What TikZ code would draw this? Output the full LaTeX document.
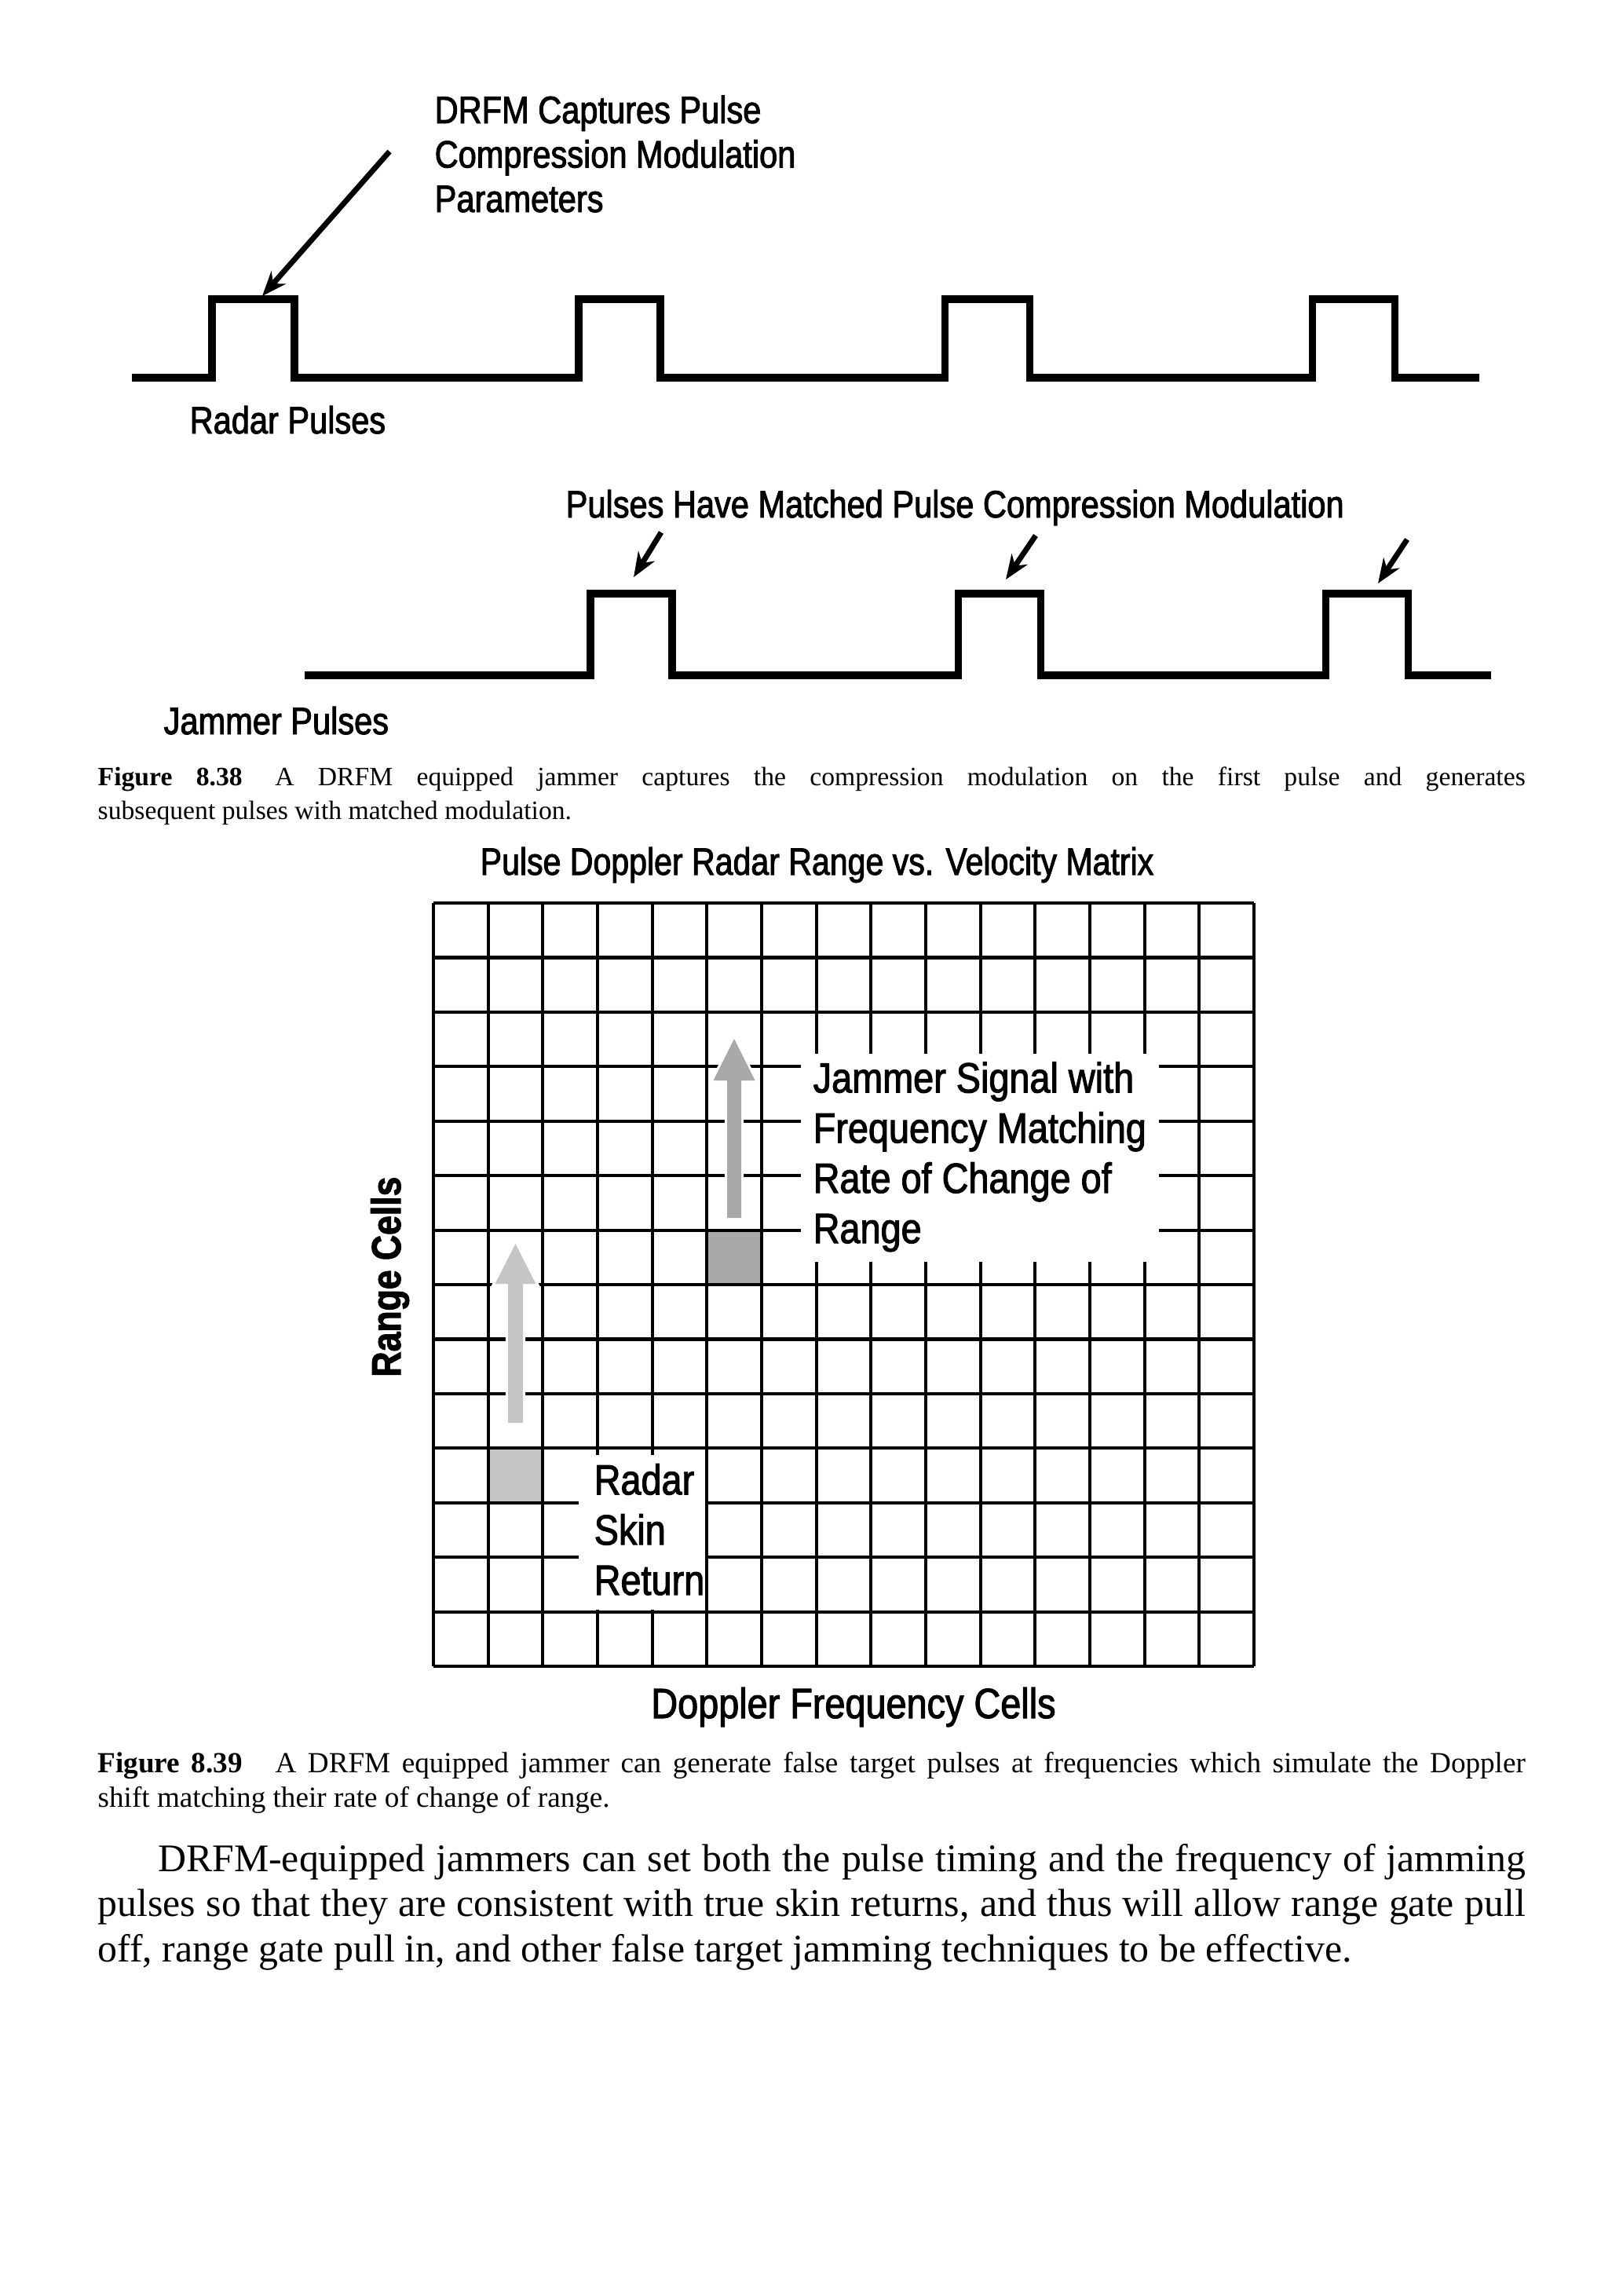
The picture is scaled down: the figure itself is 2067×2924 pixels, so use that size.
\documentclass[tikz,border=0pt]{standalone}
\usepackage{fontspec}
\setmainfont{Liberation Serif}
\newfontfamily\cond[FakeStretch=0.855,FakeBold=2]{Liberation Sans}
\newfontfamily\tcond[FakeStretch=0.845,FakeBold=2]{Liberation Sans}
\newfontfamily\gcond[FakeStretch=0.87,FakeBold=2]{Liberation Sans}
\usetikzlibrary{arrows.meta}
\definecolor{lightsq}{HTML}{C5C5C5}
\definecolor{darksq}{HTML}{A9A9A9}
\hyphenpenalty=10000
\begin{document}
\begin{tikzpicture}[x=0.288pt,y=-0.288pt,
  lab/.style={font=\cond\fontsize{14}{16.3}\selectfont, inner sep=0pt, align=left},
  glab/.style={font=\gcond\fontsize{15.5}{18.4}\selectfont, inner sep=0pt, align=left},
  capt/.style={inner sep=0pt, text width=523.6pt, align=justify},
  bodytext/.style={font=\fontsize{14.35}{16.6}\selectfont, inner sep=0pt, text width=523.6pt, align=justify},
  pulse/.style={line width=2.6pt, line join=miter},
  blackarrow/.style={line width=2pt, -{Stealth[length=9pt,width=7pt]}},
  gridln/.style={line width=1.2pt},
  whitebox/.style={fill=white, draw=none}
]
\useasboundingbox (0,0) rectangle (2067,2924);
\fill[white] (0,0) rectangle (2067,2924);

% ---------- Figure 8.38 ----------
\draw[pulse] (168,481) -- (270,481) -- (270,381) -- (375,381) -- (375,481)
  -- (737,481) -- (737,381) -- (841,381) -- (841,481)
  -- (1203,481) -- (1203,381) -- (1311,381) -- (1311,481)
  -- (1671,481) -- (1671,381) -- (1776,381) -- (1776,481) -- (1884,481);

\draw[pulse] (388,860) -- (752,860) -- (752,756) -- (856,756) -- (856,860)
  -- (1220,860) -- (1220,756) -- (1325,756) -- (1325,860)
  -- (1688,860) -- (1688,756) -- (1793,756) -- (1793,860) -- (1899,860);

\node[lab, anchor=base west] (drfm) at (553,270) {DRFM Captures Pulse\\Compression Modulation\\Parameters};
\node[lab, anchor=base west] (radarlab) at (241,552) {Radar Pulses};
\node[lab, anchor=base west] (matched) at (720,659) {Pulses Have Matched Pulse Compression Modulation};
\node[lab, anchor=base west] (jamlab) at (208,935) {Jammer Pulses};

\coordinate (a0s) at (496,193);  \coordinate (a0e) at (334,377);
\coordinate (a1s) at (842,678);  \coordinate (a1e) at (807,735);
\coordinate (a2s) at (1319,682); \coordinate (a2e) at (1281,738);
\coordinate (a3s) at (1792,687); \coordinate (a3e) at (1755,743);
\draw[blackarrow] (a0s) -- (a0e);
\draw[blackarrow] (a1s) -- (a1e);
\draw[blackarrow] (a2s) -- (a2e);
\draw[blackarrow] (a3s) -- (a3e);

\node[capt, font=\fontsize{9.7}{12.4}\selectfont, anchor=base west] (cap38) at (124,1000) {\textbf{Figure 8.38}\hspace{12pt}A DRFM equipped jammer captures the compression modulation on the first pulse and generates\linebreak subsequent pulses with matched modulation.};

% ---------- Figure 8.39 ----------
\node[lab, font=\tcond\fontsize{14}{16.3}\selectfont, anchor=base west] (title) at (611,1114) {Pulse Doppler Radar Range vs. Velocity Matrix};

% gray cells
\fill[lightsq] (621.67,1844.15) rectangle (691.34,1913.58);
\fill[darksq] (900.35,1566.43) rectangle (970.02,1635.86);

% grid
\foreach \i in {0,...,15}
  \draw[gridln] ({552+\i*69.67},1150) -- ({552+\i*69.67},2122);
\foreach \j in {0,...,14}
  \draw[gridln] (552,{1150+\j*69.43}) -- (1597,{1150+\j*69.43});

% text boxes over the grid
\fill[whitebox] (1020,1342) rectangle (1476,1607);
\fill[whitebox] (737,1853) rectangle (898,2050);

% gray arrows
\path[draw=white, line width=1.8pt, fill=lightsq] (656.5,1584) -- (682.5,1635) -- (666,1635) -- (666,1812) -- (647,1812) -- (647,1635) -- (630.5,1635) -- cycle;
\fill[lightsq] (656.5,1584) -- (682.5,1635) -- (666,1635) -- (666,1812) -- (647,1812) -- (647,1635) -- (630.5,1635) -- cycle;
\path[draw=white, line width=1.8pt, fill=darksq] (935,1323) -- (961.5,1376) -- (944,1376) -- (944,1551) -- (926,1551) -- (926,1376) -- (908.5,1376) -- cycle;
\fill[darksq] (935,1323) -- (961.5,1376) -- (944,1376) -- (944,1551) -- (926,1551) -- (926,1376) -- (908.5,1376) -- cycle;

\node[glab, anchor=base west] (jtxt) at (1035,1583) {Jammer Signal with\\Frequency Matching\\Rate of Change of\\Range};
\node[glab, anchor=base west] (rtxt) at (756,2031) {Radar\\Skin\\Return};
\node[glab, anchor=base] (xlab) at (1087,2188) {Doppler Frequency Cells};
\node[font=\cond\bfseries\fontsize{15}{18}\selectfont, inner sep=0pt, rotate=90, anchor=base] (ylab) at (510,1626) {Range Cells};

\node[capt, font=\fontsize{10.7}{12.9}\selectfont, anchor=base west] (cap39) at (124,2257) {\textbf{Figure 8.39}\hspace{12pt}A DRFM equipped jammer can generate false target pulses at frequencies which simulate the Doppler\linebreak shift matching their rate of change of range.};

\node[bodytext, anchor=base west] (para) at (124,2383) {\hspace*{22pt}DRFM-equipped jammers can set both the pulse timing and the frequency of jamming\linebreak pulses so that they are consistent with true skin returns, and thus will allow range gate pull\linebreak off, range gate pull in, and other false target jamming techniques to be effective.};
\end{tikzpicture}
\end{document}
